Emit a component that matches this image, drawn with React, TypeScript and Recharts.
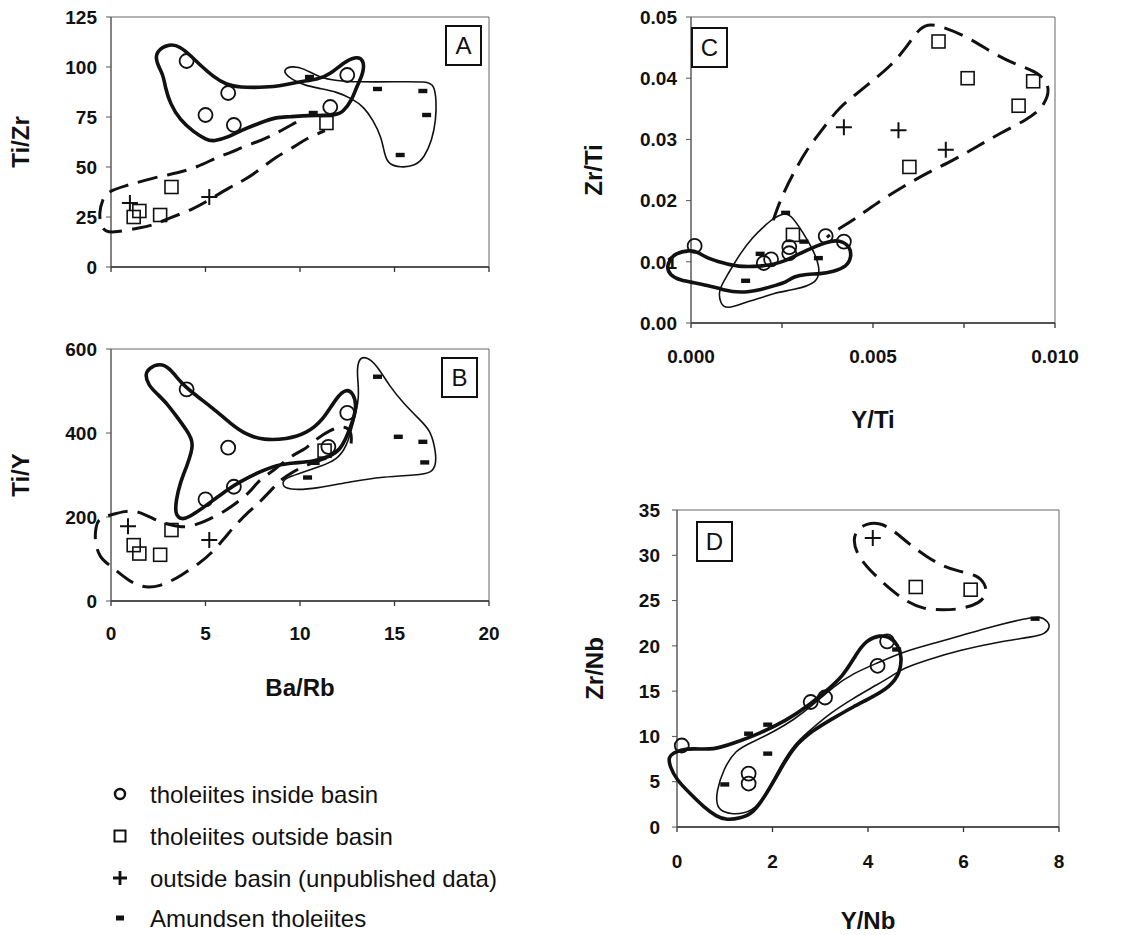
import React from 'react';
import { ScatterChart, Scatter, XAxis, YAxis, ReferenceArea } from 'recharts';

type P = [number, number];

// ---------------- Panel A : Ti/Zr vs Ba/Rb ----------------
const aInside: P[] = [[4.0, 103], [6.2, 87], [5.0, 76], [6.5, 71], [11.6, 80], [12.5, 96]];
const aOutside: P[] = [[3.2, 40], [1.5, 28], [1.2, 25], [2.6, 26], [11.4, 72]];
const aUnpub: P[] = [[1.0, 32], [5.2, 35]];
const aAmundsen: P[] = [[10.5, 95], [10.7, 77], [14.1, 89], [16.5, 88], [16.7, 76], [15.3, 56]];
const aThick: P[] = [[2.33, 107.7], [3.12, 111.8], [3.65, 110.2], [4.18, 106], [4.71, 101], [5.41, 95.2], [6.12, 91], [6.83, 89.8], [7.88, 89.8], [8.76, 90.1], [9.88, 92.6], [11.0, 93.8], [11.64, 96.8], [12.27, 101.9], [12.91, 105.3], [13.39, 103.9], [13.36, 96.8], [12.99, 90.1], [12.75, 83.4], [12.27, 77.5], [11.95, 75.8], [10.36, 75.8], [9.4, 75], [8.76, 75], [7.97, 72.4], [6.85, 68.2], [6.3, 65.2], [5.41, 62.7], [5.06, 63.5], [4.35, 67.7], [3.65, 73.5], [3.12, 81.8], [2.86, 90.2], [2.77, 96], [2.42, 101.8]];
const aThin: P[] = [[9.16, 98.9], [9.56, 100.5], [10.2, 99.4], [11.0, 94.8], [11.95, 93.1], [13.07, 92.5], [15.14, 92.6], [16.74, 92.8], [17.09, 91], [17.22, 83.4], [17.19, 73.3], [16.98, 63.2], [16.58, 54.8], [16.1, 50.5], [15.3, 49.7], [14.67, 51.4], [14.47, 56.4], [14.31, 64.9], [13.87, 73.3], [13.39, 80], [12.75, 84.2], [11.95, 87.6], [11.0, 89.3], [10.2, 91], [9.56, 93.8], [9.21, 96.5]];
const aDashed: P[] = [[9.8, 72.4], [8.68, 66.5], [8.12, 64], [6.93, 59.8], [6.37, 57.3], [5.57, 54.8], [4.6, 50], [3.41, 46.7], [2.78, 45.8], [1.59, 42.8], [0.79, 40.7], [-0.16, 37.8], [-0.45, 34], [-0.63, 27], [-0.55, 21], [-0.3, 17.5], [0.24, 17.3], [1.43, 19.5], [2.06, 20.3], [3.25, 25], [4.35, 29], [5.08, 32.8], [6.35, 40.3], [7.06, 43.3], [8.1, 50.3], [8.68, 54.8], [9.8, 60.6], [10.28, 64], [11.32, 68.2]];

// ---------------- Panel B : Ti/Y vs Ba/Rb ----------------
const bInside: P[] = [[4.0, 504], [6.2, 365], [6.5, 272], [5.0, 242], [11.5, 367], [12.5, 448]];
const bOutside: P[] = [[3.2, 169], [1.2, 133], [1.5, 113], [2.6, 110], [11.3, 358]];
const bUnpub: P[] = [[0.9, 178], [5.2, 145]];
const bAmundsen: P[] = [[14.1, 534], [15.2, 391], [16.5, 379], [16.6, 330], [10.4, 294], [10.8, 329]];
const bThick: P[] = [[1.98, 554], [2.59, 567], [3.12, 554], [3.65, 522], [4.35, 494], [5.41, 459], [6.3, 423], [7.18, 395], [8.06, 383], [9.29, 385], [10.35, 399], [11.23, 431], [11.94, 486], [12.47, 506], [12.82, 494], [13.0, 467], [12.82, 431], [12.47, 391], [12.12, 360], [11.59, 344], [10.7, 332], [9.65, 329], [8.77, 324], [7.88, 308], [6.83, 284], [6.12, 264], [5.41, 240], [4.71, 217], [4.18, 201], [3.74, 193], [3.39, 205], [3.44, 240], [3.65, 280], [4.0, 320], [4.44, 375], [4.0, 407], [3.48, 439], [2.95, 471], [2.42, 494], [1.98, 514], [1.8, 538]];
const bThin: P[] = [[13.09, 578], [13.53, 582], [14.06, 562], [14.76, 510], [15.47, 471], [16.35, 431], [16.88, 407], [17.14, 367], [17.23, 328], [16.97, 304], [16.17, 300], [14.41, 296], [12.65, 284], [10.88, 268], [9.65, 264], [9.03, 272], [9.12, 292], [10.0, 304], [11.06, 320], [11.94, 336], [12.47, 367], [12.82, 423], [13.17, 486], [13.0, 542]];
const bDashed: P[] = [[12.7, 375], [12.75, 400], [12.4, 418], [11.63, 409], [10.67, 379], [10.27, 361], [9.63, 349], [8.76, 316], [7.72, 284], [7.4, 260], [6.36, 224], [5.8, 208], [5.16, 194], [4.76, 186], [4.2, 177], [3.65, 176], [2.9, 184], [2.38, 192], [1.43, 215], [0.71, 214], [0.1, 206], [-0.63, 198], [-0.8, 178], [-0.87, 146], [-0.63, 103], [0, 83], [0.32, 71], [0.9, 50], [1.43, 37], [1.98, 31.6], [2.6, 36], [3.17, 47.4], [3.65, 59], [4.76, 92.4], [5.24, 110.6], [6.03, 150], [6.43, 174], [7.38, 217], [7.78, 231], [8.65, 272.5], [8.97, 288], [9.63, 308], [10.19, 320], [10.9, 333], [11.6, 343]];

// ---------------- Panel C : Zr/Ti vs Y/Ti ----------------
const cInside: P[] = [[0.0001, 0.0126], [0.002, 0.0098], [0.0022, 0.0104], [0.0027, 0.0124], [0.0027, 0.0114], [0.0037, 0.0142], [0.0042, 0.0133]];
const cOutside: P[] = [[0.0068, 0.046], [0.0076, 0.040], [0.0094, 0.0395], [0.009, 0.0355], [0.006, 0.0255], [0.0028, 0.0144]];
const cUnpub: P[] = [[0.0042, 0.032], [0.0057, 0.0315], [0.007, 0.0283]];
const cAmundsen: P[] = [[0.0026, 0.018], [0.0019, 0.0113], [0.0031, 0.0133], [0.0035, 0.0106], [0.0015, 0.0069]];
const cThick: P[] = [[-0.00058, 0.0103], [-0.00044, 0.0114], [-0.00003, 0.0119], [0.00016, 0.0117], [0.00043, 0.0106], [0.00089, 0.0098], [0.00126, 0.0092], [0.0019, 0.0092], [0.00245, 0.0098], [0.00281, 0.0108], [0.00318, 0.0119], [0.00373, 0.0133], [0.00409, 0.0136], [0.00437, 0.0125], [0.00441, 0.0108], [0.00428, 0.0092], [0.00391, 0.0084], [0.00354, 0.008], [0.00318, 0.008], [0.00281, 0.0076], [0.00263, 0.0067], [0.00235, 0.0062], [0.0019, 0.0054], [0.00135, 0.0049], [0.00089, 0.0054], [0.00043, 0.0062], [0.00006, 0.0066], [-0.0003, 0.007], [-0.00058, 0.0078], [-0.00067, 0.0092]];
const cThin: P[] = [[0.00226, 0.0171], [0.00254, 0.0179], [0.00272, 0.0179], [0.00309, 0.0147], [0.00336, 0.0119], [0.00354, 0.0092], [0.0035, 0.0065], [0.00281, 0.0054], [0.00226, 0.0049], [0.0019, 0.004], [0.00153, 0.0035], [0.00098, 0.0022], [0.0008, 0.0032], [0.00075, 0.0054], [0.00098, 0.0076], [0.00135, 0.0114], [0.00171, 0.0141], [0.00199, 0.0157]];
const cDashed: P[] = [[0.00226, 0.0168], [0.00245, 0.0201], [0.00281, 0.0245], [0.00318, 0.0283], [0.00345, 0.0304], [0.00373, 0.0326], [0.00409, 0.0353], [0.00446, 0.037], [0.00501, 0.0397], [0.00547, 0.0419], [0.00593, 0.0451], [0.0062, 0.0476], [0.00648, 0.049], [0.00693, 0.0484], [0.00757, 0.0468], [0.0083, 0.0441], [0.00885, 0.0424], [0.0095, 0.0411], [0.00982, 0.0392], [0.00982, 0.037], [0.00959, 0.0348], [0.00922, 0.0332], [0.00849, 0.031], [0.00785, 0.0288], [0.00721, 0.0266], [0.00648, 0.0245], [0.00583, 0.0223], [0.0051, 0.0196], [0.00446, 0.0168], [0.004, 0.0152], [0.00373, 0.014]];

// ---------------- Panel D : Zr/Nb vs Y/Nb ----------------
const dInside: P[] = [[0.1, 9.0], [1.5, 5.9], [1.5, 4.8], [2.8, 13.8], [3.1, 14.3], [4.2, 17.8], [4.4, 20.5]];
const dOutside: P[] = [[5.0, 26.5], [6.15, 26.2]];
const dUnpub: P[] = [[4.1, 31.9]];
const dAmundsen: P[] = [[1.5, 10.3], [1.9, 11.3], [1.9, 8.1], [1.0, 4.7], [7.5, 23.0], [4.6, 19.6]];
const dThick: P[] = [[-0.077, 8.14], [0.063, 8.5], [0.34, 8.69], [0.76, 8.5], [1.18, 9.24], [1.74, 10.34], [2.3, 11.8], [2.72, 13.28], [3.06, 14.76], [3.48, 16.6], [3.76, 19.18], [3.97, 20.65], [4.25, 21.2], [4.46, 21.0], [4.63, 20.1], [4.71, 18.8], [4.67, 16.97], [4.46, 15.5], [4.11, 14.4], [3.69, 13.28], [3.27, 12.0], [2.85, 10.7], [2.44, 8.87], [2.16, 6.29], [1.88, 3.72], [1.6, 1.51], [1.32, 0.96], [1.04, 0.77], [0.83, 1.14], [0.55, 2.24], [0.27, 3.72], [-0.006, 5.19], [-0.15, 6.66], [-0.18, 7.76]];
const dThin: P[] = [[0.8, 1.51], [0.83, 4.09], [0.97, 6.29], [1.21, 8.5], [1.6, 9.42], [2.02, 10.52], [2.44, 11.81], [2.85, 13.47], [3.27, 15.49], [3.69, 16.97], [4.18, 18.07], [4.74, 19.36], [5.37, 20.28], [5.93, 21.09], [6.62, 22.19], [7.32, 23.04], [7.6, 23.3], [7.78, 22.67], [7.81, 22.05], [7.71, 21.31], [7.46, 21.01], [6.76, 20.46], [5.93, 19.54], [5.23, 18.44], [4.74, 17.52], [4.53, 16.78], [4.18, 15.68], [3.69, 14.21], [3.2, 12.55], [2.75, 10.52], [2.44, 9.05], [2.16, 6.66], [1.95, 4.45], [1.74, 2.62], [1.46, 1.32]];
const dDashed: P[] = [[3.76, 32.79], [3.97, 33.53], [4.25, 33.6], [4.53, 32.79], [4.88, 31.14], [5.23, 29.84], [5.58, 28.74], [5.93, 28.19], [6.28, 27.82], [6.45, 26.9], [6.49, 25.8], [6.35, 24.7], [5.93, 24.04], [5.58, 23.96], [5.16, 24.04], [4.81, 24.88], [4.53, 25.98], [4.25, 27.27], [3.97, 28.74], [3.76, 30.22], [3.69, 31.69]];

// ---------------- axes ----------------
const baRbTicks = [0, 5, 10, 15, 20];
const tiZrTicks = [0, 25, 50, 75, 100, 125];
const tiYTicks = [0, 200, 400, 600];
const yTiTicks = [0, 0.0025, 0.005, 0.0075, 0.01];
const zrTiTicks = [0, 0.01, 0.02, 0.03, 0.04, 0.05];
const yNbTicks = [0, 2, 4, 6, 8];
const zrNbTicks = [0, 5, 10, 15, 20, 25, 30, 35];

const legendLabels = [
  'tholeiites inside basin',
  'tholeiites outside basin',
  'outside basin (unpublished data)',
  'Amundsen tholeiites',
];

const FONT = '"Liberation Sans", Arial, Helvetica, sans-serif';
const INK = '#111';

const toPts = (a: P[]) => a.map(([x, y]) => ({ x, y }));

const CircleMark = (p: any) => <circle cx={p.cx} cy={p.cy} r={7} fill="none" stroke={INK} strokeWidth={1.8} />;
const SquareMark = (p: any) => <rect x={p.cx - 6.5} y={p.cy - 6.5} width={13} height={13} fill="none" stroke={INK} strokeWidth={1.6} />;
const PlusMark = (p: any) => (
  <path d={`M${p.cx - 8},${p.cy}H${p.cx + 8}M${p.cx},${p.cy - 8}V${p.cy + 8}`} stroke={INK} strokeWidth={2} fill="none" />
);
const MinusMark = (p: any) => <rect x={p.cx - 4.5} y={p.cy - 2.2} width={9} height={4.4} fill={INK} />;
const NoMark = () => <g />;

type Outline = { data: P[]; kind: 'thick' | 'thin' | 'dash'; closed: boolean };
type PanelCfg = {
  left: number; top: number; width: number; height: number;
  margin: { top: number; right: number; bottom: number; left: number };
  yWidth: number; xHeight: number;
  xDomain: [number, number]; xTicks: number[]; xFmt: (v: number, i: number) => string;
  yDomain: [number, number]; yTicks: number[]; yFmt: (v: number) => string;
  xTickMargin: number; yTickMargin: number;
  xLabel?: string; xLabelOffset?: number; yLabel: string; yLabelOffset: number;
  outlines: Outline[];
  inside: P[]; outside: P[]; unpub: P[]; amundsen: P[];
};

const lineStyle = (kind: Outline['kind']) => {
  if (kind === 'thick') return { stroke: INK, strokeWidth: 3.6, fill: 'none', strokeLinejoin: 'round' as const };
  if (kind === 'thin') return { stroke: INK, strokeWidth: 1.6, fill: 'none', strokeLinejoin: 'round' as const };
  return { stroke: INK, strokeWidth: 3, fill: 'none', strokeDasharray: '20 10' };
};

function Panel(c: PanelCfg) {
  const tickStyle = { fontSize: 19, fontWeight: 700, fill: INK, fontFamily: FONT };
  const titleStyle = { fontSize: 24, fontWeight: 700, fill: INK, fontFamily: FONT };
  return (
    <div style={{ position: 'absolute', left: c.left, top: c.top, width: c.width, height: c.height }}>
      <ScatterChart width={c.width} height={c.height} margin={c.margin}>
        <XAxis
          type="number" dataKey="x" domain={c.xDomain} ticks={c.xTicks} allowDataOverflow
          height={c.xHeight} interval={0} tickFormatter={c.xFmt} tick={tickStyle}
          tickSize={5} tickMargin={c.xTickMargin}
          axisLine={{ stroke: '#333', strokeWidth: 1.3 }} tickLine={{ stroke: '#333', strokeWidth: 1.3 }}
          label={c.xLabel ? { value: c.xLabel, position: 'insideTop', offset: c.xLabelOffset, style: titleStyle } : undefined}
        />
        <YAxis
          type="number" dataKey="y" domain={c.yDomain} ticks={c.yTicks} allowDataOverflow
          width={c.yWidth} interval={0} tickFormatter={c.yFmt} tick={tickStyle}
          tickSize={5} tickMargin={c.yTickMargin}
          axisLine={{ stroke: '#555', strokeWidth: 1 }} tickLine={{ stroke: '#555', strokeWidth: 1 }}
          label={{ value: c.yLabel, angle: -90, position: 'insideLeft', offset: c.yLabelOffset, style: { ...titleStyle, textAnchor: 'middle' } }}
        />
        <ReferenceArea x1={c.xDomain[0]} x2={c.xDomain[1]} y1={c.yDomain[0]} y2={c.yDomain[1]} fill="none" stroke="#666" strokeWidth={1} fillOpacity={0} />
        {c.outlines.map((o, i) => (
          <Scatter
            key={'o' + i} data={toPts(o.data)} isAnimationActive={false} fill={INK}
            shape={NoMark} line={lineStyle(o.kind)} lineType="joint"
            lineJointType={o.closed ? 'basisClosed' : 'basis'} legendType="none"
          />
        ))}
        <Scatter data={toPts(c.inside)} isAnimationActive={false} fill={INK} shape={CircleMark} />
        <Scatter data={toPts(c.outside)} isAnimationActive={false} fill={INK} shape={SquareMark} />
        <Scatter data={toPts(c.unpub)} isAnimationActive={false} fill={INK} shape={PlusMark} />
        <Scatter data={toPts(c.amundsen)} isAnimationActive={false} fill={INK} shape={MinusMark} />
      </ScatterChart>
    </div>
  );
}

const blank = () => '';
const intFmt = (v: number) => String(v);

const panels: PanelCfg[] = [
  {
    left: 0, top: 0, width: 540, height: 300, margin: { top: 17, right: 51, bottom: 3, left: 0 },
    yWidth: 111, xHeight: 30, xDomain: [0, 20], xTicks: baRbTicks, xFmt: blank,
    yDomain: [0, 125], yTicks: tiZrTicks, yFmt: intFmt, xTickMargin: 21, yTickMargin: 9,
    yLabel: 'Ti/Zr', yLabelOffset: 20,
    outlines: [{ data: aThick, kind: 'thick', closed: true }, { data: aThin, kind: 'thin', closed: true }, { data: aDashed, kind: 'dash', closed: false }],
    inside: aInside, outside: aOutside, unpub: aUnpub, amundsen: aAmundsen,
  },
  {
    left: 0, top: 330, width: 540, height: 380, margin: { top: 19, right: 51, bottom: 9, left: 0 },
    yWidth: 111, xHeight: 100, xDomain: [0, 20], xTicks: baRbTicks, xFmt: (v) => String(v),
    yDomain: [0, 600], yTicks: tiYTicks, yFmt: intFmt, xTickMargin: 21, yTickMargin: 9,
    xLabel: 'Ba/Rb', xLabelOffset: 78, yLabel: 'Ti/Y', yLabelOffset: 20,
    outlines: [{ data: bThick, kind: 'thick', closed: true }, { data: bThin, kind: 'thin', closed: true }, { data: bDashed, kind: 'dash', closed: false }],
    inside: bInside, outside: bOutside, unpub: bUnpub, amundsen: bAmundsen,
  },
  {
    left: 560, top: 0, width: 570, height: 450, margin: { top: 17, right: 75, bottom: 7, left: 0 },
    yWidth: 131, xHeight: 120, xDomain: [0, 0.01], xTicks: yTiTicks, xFmt: (v, i) => (i % 2 === 0 ? v.toFixed(3) : ''),
    yDomain: [0, 0.05], yTicks: zrTiTicks, yFmt: (v) => v.toFixed(2), xTickMargin: 22, yTickMargin: 9,
    xLabel: 'Y/Ti', xLabelOffset: 88, yLabel: 'Zr/Ti', yLabelOffset: 33,
    outlines: [{ data: cThick, kind: 'thick', closed: true }, { data: cThin, kind: 'thin', closed: true }, { data: cDashed, kind: 'dash', closed: false }],
    inside: cInside, outside: cOutside, unpub: cUnpub, amundsen: cAmundsen,
  },
  {
    left: 560, top: 470, width: 570, height: 465, margin: { top: 40, right: 71, bottom: 3, left: 0 },
    yWidth: 117, xHeight: 105, xDomain: [0, 8], xTicks: yNbTicks, xFmt: (v) => String(v),
    yDomain: [0, 35], yTicks: zrNbTicks, yFmt: intFmt, xTickMargin: 23, yTickMargin: 12,
    xLabel: 'Y/Nb', xLabelOffset: 85, yLabel: 'Zr/Nb', yLabelOffset: 34,
    outlines: [{ data: dThick, kind: 'thick', closed: true }, { data: dThin, kind: 'thin', closed: true }, { data: dDashed, kind: 'dash', closed: true }],
    inside: dInside, outside: dOutside, unpub: dUnpub, amundsen: dAmundsen,
  },
];

const boxes = [
  { t: 'A', left: 445, top: 25 },
  { t: 'B', left: 441, top: 357 },
  { t: 'C', left: 691, top: 27 },
  { t: 'D', left: 696, top: 521 },
];

function Legend() {
  const rows = [34, 76, 118, 158];
  const mx = 120;
  return (
    <svg style={{ position: 'absolute', left: 0, top: 760 }} width={560} height={175}>
      <circle cx={mx} cy={rows[0]} r={5} fill="none" stroke={INK} strokeWidth={2.5} />
      <rect x={mx - 5.5} y={rows[1] - 5.5} width={11} height={11} fill="none" stroke={INK} strokeWidth={2} />
      <path d={`M${mx - 7},${rows[2]}H${mx + 7}M${mx},${rows[2] - 7}V${rows[2] + 7}`} stroke={INK} strokeWidth={2.8} />
      <rect x={mx - 4} y={rows[3] - 2.5} width={8} height={5} fill={INK} />
      {legendLabels.map((l, i) => (
        <text key={l} x={150} y={rows[i]} dominantBaseline="central" fontSize={24} fontFamily={FONT} fill={INK}>{l}</text>
      ))}
    </svg>
  );
}

export default function App() {
  return (
    <div style={{ position: 'absolute', left: 0, top: 0, width: 1130, height: 935, background: '#fff', overflow: 'hidden' }}>
      <style>{'svg g[clip-path]{clip-path:none !important;} .recharts-wrapper svg{overflow:visible}'}</style>
      {panels.map((p, i) => <Panel key={i} {...p} />)}
      {boxes.map((b) => (
        <div key={b.t} style={{
          position: 'absolute', left: b.left, top: b.top, width: 37, height: 41, boxSizing: 'border-box',
          border: '2.5px solid #111', fontFamily: FONT, fontSize: 24, color: INK, display: 'flex',
          alignItems: 'center', justifyContent: 'center', background: 'transparent',
        }}>{b.t}</div>
      ))}
      <Legend />
    </div>
  );
}
